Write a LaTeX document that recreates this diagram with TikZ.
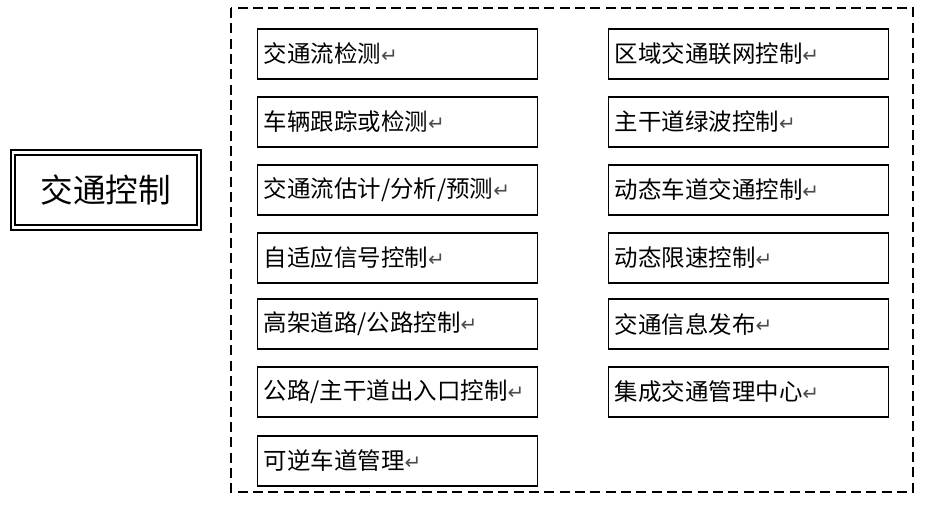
\documentclass[tikz,border=0pt]{standalone}
\usepackage{fontspec}
\newfontfamily\cjk{Noto Sans CJK SC}
\newfontfamily\symf{DejaVu Sans}
\newcommand{\rt}{{\symf\fontsize{15pt}{15pt}\selectfont\color{black!70}\raisebox{0.5pt}{↵}}}
\begin{document}
\begin{tikzpicture}[x=0.75pt,y=-0.75pt,
  itembox/.style={draw, line width=1.1pt, anchor=west, text width=268*0.75pt,
    align=left, inner xsep=4.5pt, minimum height=50*0.75pt, font=\cjk\fontsize{17.6pt}{17.6pt}\selectfont},
  frame/.style={draw, line width=1.1pt, dash pattern=on 7.5pt off 4pt}]
\useasboundingbox[fill=white] (0,0) rectangle (946,524);
% title box
\node[draw, line width=1.4pt, minimum width=186*0.75pt, minimum height=75*0.75pt,
  double, double distance=2.2pt, inner sep=0pt,
  font=\cjk\fontsize{24.5pt}{24.5pt}\selectfont] (title) at (106,190) {交通控制};
% dashed frame
\draw[frame] (231,8) rectangle (913,492);
% left column
\node[itembox] (l1) at (257,54) {交通流检测\rt};
\node[itembox] (l2) at (257,122) {车辆跟踪或检测\rt};
\node[itembox] (l3) at (257,190) {交通流估计/分析/预测\rt};
\node[itembox] (l4) at (257,258) {自适应信号控制\rt};
\node[itembox] (l5) at (257,324) {高架道路/公路控制\rt};
\node[itembox] (l6) at (257,392) {公路/主干道出入口控制\rt};
\node[itembox] (l7) at (257,461) {可逆车道管理\rt};
% right column
\node[itembox] (r1) at (608,54) {区域交通联网控制\rt};
\node[itembox] (r2) at (608,122) {主干道绿波控制\rt};
\node[itembox] (r3) at (608,190) {动态车道交通控制\rt};
\node[itembox] (r4) at (608,258) {动态限速控制\rt};
\node[itembox] (r5) at (608,324) {交通信息发布\rt};
\node[itembox] (r6) at (608,392) {集成交通管理中心\rt};
\end{tikzpicture}
\end{document}
